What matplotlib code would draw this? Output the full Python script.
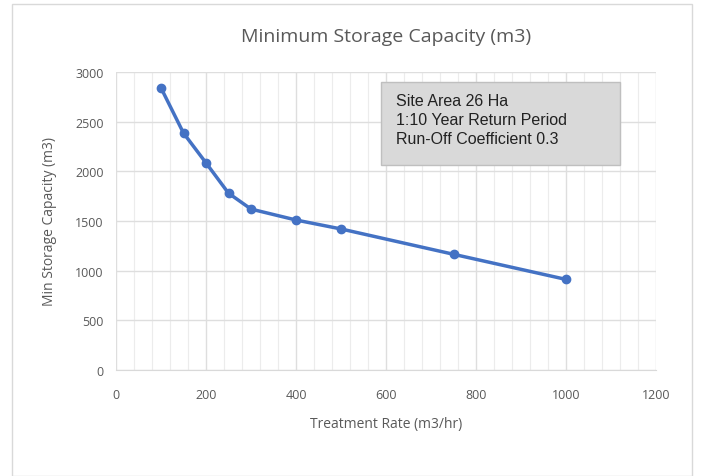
import matplotlib.pyplot as plt
from matplotlib.patches import Rectangle
from matplotlib.ticker import MultipleLocator

# Data
treatment_rate = [100, 150, 200, 250, 300, 400, 500, 750, 1000]
min_storage = [2840, 2385, 2085, 1780, 1620, 1510, 1420, 1165, 912]

box_lines = ["Site Area 26 Ha", "1:10 Year Return Period", "Run-Off Coefficient 0.3"]

plt.rcParams['font.family'] = ['Open Sans', 'DejaVu Sans']

fig = plt.figure(figsize=(7.02, 4.77), dpi=100)
fig.patches.append(Rectangle((12 / 702, 0), 680 / 702, 1 - 5 / 477, transform=fig.transFigure,
                             fill=False, edgecolor="#d9d9d9", linewidth=1))

ax = fig.add_axes([116 / 702, 1 - 371 / 477, 540 / 702, 298 / 477])
ax.plot(treatment_rate, min_storage, color="#4472C4", linewidth=2.5,
        marker="o", markersize=6, zorder=3)

ax.set_xlim(0, 1200)
ax.set_ylim(0, 3000)
ax.xaxis.set_major_locator(MultipleLocator(200))
ax.xaxis.set_minor_locator(MultipleLocator(40))
ax.yaxis.set_major_locator(MultipleLocator(500))
ax.grid(which="major", color="#dedede", linewidth=1)
ax.grid(which="minor", axis="x", color="#ececec", linewidth=0.8)
ax.set_axisbelow(True)
for side in ["top", "right", "left"]:
    ax.spines[side].set_visible(False)
ax.spines["bottom"].set_color("#d9d9d9")
ax.tick_params(which="both", length=0, labelsize=9, labelcolor="#595959")
ax.tick_params(axis="x", pad=13)
ax.tick_params(axis="y", pad=9)

ax.set_title("Minimum Storage Capacity (m3)", fontsize=14, color="#595959", pad=22)
ax.set_xlabel("Treatment Rate (m3/hr)", fontsize=10, color="#595959", labelpad=11)
ax.set_ylabel("Min Storage Capacity (m3)", fontsize=10, color="#595959", labelpad=13)

fig.patches.append(Rectangle((381 / 702, 1 - 166 / 477), 239 / 702, 83 / 477,
                             transform=fig.transFigure, facecolor="#d9d9d9",
                             edgecolor="#bfbfbf", linewidth=1, zorder=5))
fig.text(396 / 702, 1 - 94 / 477, "\n".join(box_lines), fontsize=11.5,
         family="Liberation Sans", color="#222222", va="top", ha="left",
         linespacing=1.33, zorder=6)

fig.savefig("out.png", dpi=100)
